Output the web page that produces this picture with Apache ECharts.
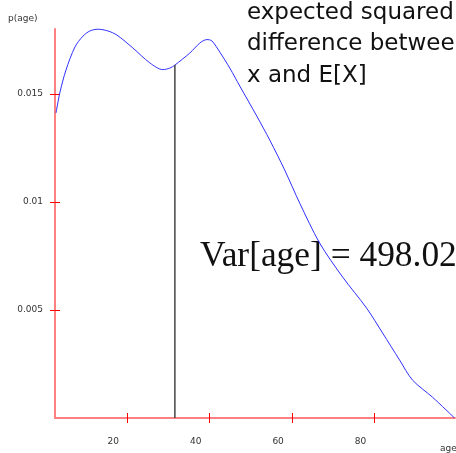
<!DOCTYPE html>
<html>
<head>
<meta charset="utf-8">
<script src="https://cdn.jsdelivr.net/npm/echarts@6/dist/echarts.min.js"></script>
<style>
  html, body { margin: 0; padding: 0; background: #fff; }
  #chart { width: 456px; height: 453px; }
</style>
</head>
<body>
<div id="chart"></div>
<script>
// Kernel density estimate of age
const ages = [2.74, 3.71, 5.16, 7.34, 9.28, 10.97, 12.91, 15.33, 17.51, 21.39, 25.51, 28.66, 30.35,
  31.57, 35.2, 37.62, 39.32, 40.53, 42.47, 44.89, 47.31, 51.43, 54.58, 58.21, 61.85, 66.69, 72.26,
  78.08, 81.95, 86.07, 89.22, 94.06, 99.39];
const density = [0.01411, 0.01508, 0.01610, 0.01717, 0.01767, 0.01791, 0.01799, 0.01791, 0.01772,
  0.01712, 0.01643, 0.01612, 0.01619, 0.01633, 0.01689, 0.01735, 0.01751, 0.01745, 0.01693, 0.01619,
  0.01536, 0.01397, 0.01286, 0.01147, 0.00994, 0.00809, 0.00652, 0.00508, 0.00393, 0.00268, 0.00175,
  0.00096, 0.0];

// Mean of age, marked with a vertical line up to the curve
const meanAge = 31.57;
const densityAtMean = 0.01633;
const varianceText = 'Var[age] = 498.02';

const xTicks = [20, 40, 60, 80];
const yTicks = [0.005, 0.01, 0.015];
const xRange = [2.5, 99.5];
const yRange = [0, 0.018];

const axisRed = '#ff8080';
const tickRed = '#ff0000';
const labelFont = { fontFamily: 'DejaVu Sans', fontSize: 9, color: '#333' };

function xAxisDef(inside, showLine, showLabel) {
  return {
    type: 'value', position: 'bottom', min: xRange[0], max: xRange[1],
    axisLine: { show: showLine, onZero: false, lineStyle: { color: axisRed, width: 2 } },
    axisTick: { show: true, inside: inside, length: 5, customValues: xTicks,
      lineStyle: { color: tickRed, width: 1 } },
    axisLabel: { show: showLabel, customValues: xTicks, margin: 19,
      padding: [0, 28, 0, 0], ...labelFont },
    splitLine: { show: false }
  };
}
function yAxisDef(inside, showLine, showLabel) {
  return {
    type: 'value', position: 'left', min: yRange[0], max: yRange[1],
    axisLine: { show: showLine, onZero: false, lineStyle: { color: axisRed, width: 2 } },
    axisTick: { show: true, inside: inside, length: 5, customValues: yTicks,
      lineStyle: { color: tickRed, width: 1 } },
    axisLabel: { show: showLabel, customValues: yTicks, margin: 12,
      padding: [6, 0, 0, 0], formatter: v => String(v), ...labelFont },
    splitLine: { show: false }
  };
}

const chart = echarts.init(document.getElementById('chart'), null, { renderer: 'canvas' });
chart.setOption({
  animation: false,
  backgroundColor: '#fff',
  grid: { left: 55, right: 1, top: 29, bottom: 35, containLabel: false },
  xAxis: [xAxisDef(false, true, true), xAxisDef(true, false, false)],
  yAxis: [yAxisDef(false, true, true), yAxisDef(true, false, false)],
  series: [
    {
      type: 'line', xAxisIndex: 0, yAxisIndex: 0,
      data: ages.map((a, i) => [a, density[i]]),
      smooth: 0.3, showSymbol: false, clip: false,
      lineStyle: { color: '#3030ff', width: 1 }
    },
    {
      type: 'line', xAxisIndex: 0, yAxisIndex: 0,
      data: [[meanAge, 0], [meanAge, densityAtMean]],
      showSymbol: false, clip: false,
      lineStyle: { color: '#444', width: 1.5 }
    }
  ],
  graphic: [
    { type: 'text', left: 8, top: 14,
      style: { text: 'p(age)', font: '9px "DejaVu Sans"', fill: '#333' } },
    { type: 'text', left: 440, top: 444,
      style: { text: 'age', font: '9px "DejaVu Sans"', fill: '#333' } },
    { type: 'text', left: 247, top: -3,
      style: { text: 'expected squared\ndifference between\nx and E[X]',
        font: '23px "DejaVu Sans"', lineHeight: 31.5, fill: '#111' } },
    { type: 'text', left: 200, top: 239,
      style: { text: varianceText, font: '35.4px "Liberation Serif"', fill: '#111' } }
  ]
});
</script>
</body>
</html>
